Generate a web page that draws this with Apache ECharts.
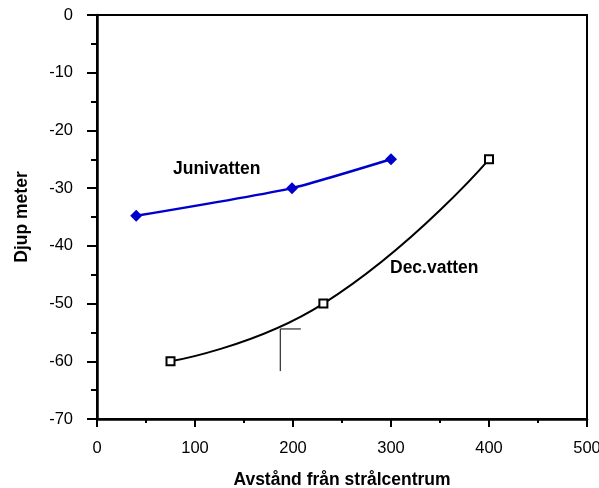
<!DOCTYPE html>
<html><head><meta charset="utf-8">
<script src="https://cdn.jsdelivr.net/npm/echarts@6/dist/echarts.min.js"></script>
<style>html,body{margin:0;padding:0;background:#fff}#c{width:599px;height:488px}</style>
</head><body><div id="c"></div>
<script>
var juniX = [40, 199, 300];
var juniY = [-34.8, -30, -25];
var decX = [75, 231, 400];
var decY = [-60, -50, -25];
var bracketX = [187, 187, 208];
var bracketY = [-61.7, -54.4, -54.4];
var xTicks = [0, 100, 200, 300, 400, 500];
var yTicks = [0, -10, -20, -30, -40, -50, -60, -70];

function pairs(xs, ys){ return xs.map(function(x,i){return [x, ys[i]];}); }

var font = 'Arial, "Liberation Sans", sans-serif';
var chart = echarts.init(document.getElementById('c'), null, {renderer:'canvas'});
chart.setOption({
  animation:false,
  grid:{left:97, top:15, right:12, bottom:69, containLabel:false, outerBoundsMode:'none',
    show:true, borderColor:'#000', borderWidth:2, backgroundColor:'transparent'},
  xAxis:{type:'value', min:xTicks[0], max:xTicks[xTicks.length-1], interval:100,
    name:'Avstånd från strålcentrum', nameLocation:'middle', nameGap:52,
    nameTextStyle:{fontFamily:font, fontWeight:'bold', fontSize:17.5, color:'#000'},
    axisLine:{onZero:false, lineStyle:{color:'#000', width:2.5}},
    axisTick:{inside:false, length:8, lineStyle:{color:'#000', width:2}},
    minorTick:{show:true, splitNumber:2, length:4, lineStyle:{color:'#000', width:2}},
    splitLine:{show:false},
    axisLabel:{fontFamily:font, fontSize:16.5, color:'#000', margin:21}},
  yAxis:{type:'value', min:yTicks[yTicks.length-1], max:yTicks[0], interval:10,
    name:'Djup meter', nameLocation:'middle', nameGap:66, nameRotate:90,
    nameTextStyle:{fontFamily:font, fontWeight:'bold', fontSize:17.5, color:'#000'},
    axisLine:{onZero:false, lineStyle:{color:'#000', width:2.5}},
    axisTick:{inside:false, length:10, lineStyle:{color:'#000', width:2}},
    minorTick:{show:true, splitNumber:2, length:6, lineStyle:{color:'#000', width:2}},
    splitLine:{show:false},
    axisLabel:{fontFamily:font, fontSize:16.5, color:'#000', margin:24}},
  series:[
    {name:'Junivatten', type:'line', data:pairs(juniX, juniY), smooth:0.2,
      lineStyle:{color:'#0000CC', width:2.5}, itemStyle:{color:'#0000CC'},
      symbol:'diamond', symbolSize:12, z:3},
    {name:'Dec.vatten', type:'line', data:pairs(decX, decY), smooth:0.5,
      lineStyle:{color:'#000', width:2}, itemStyle:{color:'#fff', borderColor:'#000', borderWidth:2},
      symbol:'rect', symbolSize:8, z:3},
    {name:'bracket', type:'line', data:pairs(bracketX, bracketY), symbol:'none',
      lineStyle:{color:'#000', width:1}, z:2}
  ],
  graphic:[
    {type:'text', left:173, top:160, style:{text:'Junivatten', font:'bold 17.5px ' + font, fill:'#000'}},
    {type:'text', left:390, top:259, style:{text:'Dec.vatten', font:'bold 17.5px ' + font, fill:'#000'}}
  ]
});
</script></body></html>
